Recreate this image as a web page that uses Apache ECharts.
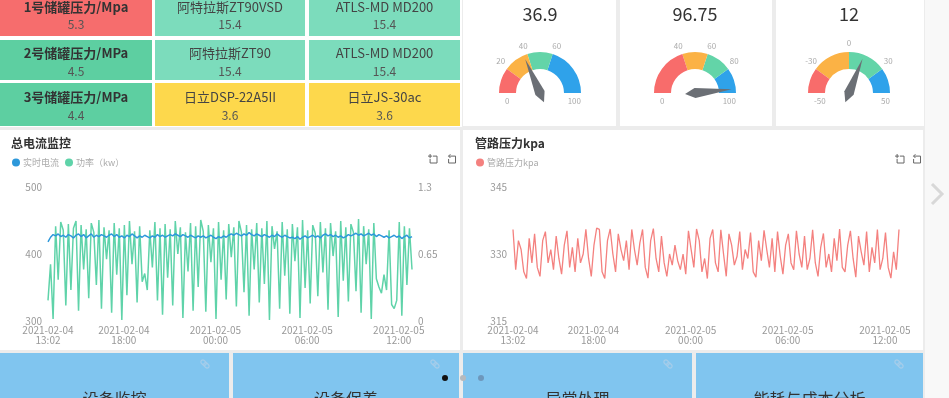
<!DOCTYPE html>
<html>
<head>
<meta charset="utf-8">
<script src="https://cdn.jsdelivr.net/npm/echarts@6/dist/echarts.min.js"></script>
<style>
  html, body { margin: 0; padding: 0; background: #fff; }
  #main { width: 949px; height: 398px; }
</style>
</head>
<body>
<div id="main"></div>
<script>
// 储罐 / 空压机 状态表
const tileLabels = [
  ['1号储罐压力/Mpa', '阿特拉斯ZT90VSD', 'ATLS-MD MD200'],
  ['2号储罐压力/MPa', '阿特拉斯ZT90', 'ATLS-MD MD200'],
  ['3号储罐压力/MPa', '日立DSP-22A5II', '日立JS-30ac']
]
const tileValues = [
  [5.3, 15.4, 15.4],
  [4.5, 15.4, 15.4],
  [4.4, 3.6, 3.6]
]
const tileStatus = [
  ['alarm', 'ok', 'ok'],
  ['good', 'ok', 'ok'],
  ['good', 'warn', 'warn']
]

// 仪表盘
const gaugeValues = [36.9, 96.75, 12]
const gaugeRanges = [[0, 100], [0, 100], [-50, 50]]
const gaugeBreaks = [[20, 40, 60], [40, 60, 80], [-30, 0, 30]]

// 底部入口
const menuNames = ['设备监控', '设备保养', '异常处理', '能耗与成本分析']

// 时间轴：2021-02-04 13:02 起，每 10 分钟一个点
const startTime = new Date(2021, 1, 4, 13, 2).getTime()
const stepMinutes = 10

// 实时电流（左轴）
const currentValues = [
  418, 425, 429, 427, 430, 426, 428, 425, 429, 427, 424, 428,
  430, 426, 429, 424, 427, 430, 425, 428, 426, 429, 427, 425,
  428, 430, 426, 429, 425, 427, 424, 428, 426, 430, 427, 424,
  427, 425, 428, 426, 424, 427, 425, 429, 426, 428, 425, 427,
  429, 427, 430, 428, 426, 429, 427, 425, 428, 426, 424, 427,
  425, 427, 424, 426, 428, 425, 423, 426, 424, 427, 425, 428,
  430, 428, 431, 429, 427, 430, 428, 432, 429, 427, 430, 428,
  426, 429, 427, 425, 428, 426, 430, 427, 425, 428, 426, 424,
  425, 423, 426, 422, 425, 427, 424, 426, 428, 425, 427, 424,
  428, 430, 427, 429, 426, 428, 425, 427, 424, 426, 429, 427,
  429, 431, 428, 430, 427, 429, 431, 428, 430, 426, 429, 427,
  425, 427, 424, 426, 428, 425, 427, 423, 426, 428, 424, 426
]

// 功率（右轴）
const powerValues = [
  0.20, 0.55, 0.02, 0.92, 0.40, 0.96, 0.88, 0.15, 0.94, 0.30, 0.90, 0.97,
  0.10, 0.93, 0.50, 0.89, 0.22, 0.95, 0.86, 0.35, 0.98, 0.12, 0.91, 0.60,
  0.88, 0.08, 0.95, 0.45, 0.90, 0.01, 0.93, 0.25, 0.97, 0.55, 0.87, 0.18,
  0.92, 0.38, 0.46, 0.30, 0.88, 0.52, 0.96, 0.20, 0.90, 0.06, 0.94, 0.42,
  0.89, 0.15, 0.97, 0.65, 0.91, 0.03, 0.86, 0.48, 0.95, 0.10, 0.92, 0.33,
  0.98, 0.87, 0.09, 0.93, 0.57, 0.90, 0.02, 0.96, 0.40, 0.88, 0.21, 0.94,
  0.62, 0.91, 0.14, 0.97, 0.86, 0.28, 0.93, 0.05, 0.89, 0.50, 0.95, 0.18,
  0.90, 0.36, 0.97, 0.01, 0.92, 0.70, 0.87, 0.12, 0.96, 0.44, 0.89, 0.07,
  0.94, 0.58, 0.91, 0.03, 0.98, 0.32, 0.88, 0.17, 0.93, 0.85, 0.24, 0.96,
  0.47, 0.90, 0.11, 0.95, 0.63, 0.87, 0.04, 0.97, 0.39, 0.91, 0.19, 0.94,
  0.86, 0.29, 0.99, 0.08, 0.92, 0.55, 0.89, 0.02, 0.95, 0.41, 0.33, 0.27,
  0.45, 0.30, 0.88, 0.16, 0.12, 0.20, 0.96, 0.05, 0.92, 0.35, 0.90, 0.50
]

// 管路压力kpa
const pressureValues = [
  335.5, 326.5, 333, 331, 326, 324.5, 333.5, 328, 334.5, 327, 325, 333,
  335, 328, 331, 326.5, 334, 329, 325.5, 332, 335.2, 327, 331.5, 326,
  333.5, 328, 330, 335.5, 329, 325, 332, 335.8, 335.5, 326, 324.5, 333,
  335.6, 330, 326, 334.5, 331, 328.5, 333, 326.5, 335.5, 331, 327.5, 332.5,
  335.5, 327, 324.6, 333, 335.7, 329, 326, 334, 328, 325, 330, 327.5,
  332, 328.5, 326.5, 330, 325.5, 335.2, 331, 327, 335.6, 333, 326, 329,
  324.5, 333.5, 335.5, 328, 326, 335.4, 330, 325, 334.5, 332, 327.5, 329.5,
  335, 326.5, 331, 329, 334.8, 326, 324.8, 333, 328.5, 335.3, 331, 327,
  333.5, 326, 335, 329.5, 325.5, 332, 334.5, 328, 326.5, 335.2, 330, 327,
  334, 326.5, 329, 335.4, 328, 325, 331.5, 334.6, 327, 330, 326, 333.5,
  328.5, 335.6, 327, 326, 332, 335.2, 329, 324.8, 334, 330.5, 327.5, 335,
  326, 331.5, 328, 335.5, 326.5, 329, 334.8, 327, 324.6, 330.5, 326.5, 335.5
]

const FONT = '"Noto Sans CJK SC", "Noto Sans", sans-serif'
const C = {
  red: '#f86c6b', orange: '#fbb245', green: '#63d4a8', blue: '#2fa2ea',
  tileRed: '#f66d6d', tileGood: '#5dcfa1', tileOk: '#7cdcbc', tileWarn: '#fdd84c',
  menu: '#80c5ef', bg: '#ececec'
}

const times = currentValues.map((_, i) => startTime + i * stepMinutes * 60000)
const pairs = (vals) => vals.map((v, i) => [times[i], v])

function pad(n) { return n < 10 ? '0' + n : '' + n }
function timeLabel(val) {
  const d = new Date(val)
  return d.getFullYear() + '-' + pad(d.getMonth() + 1) + '-' + pad(d.getDate()) + '\n' +
    pad(d.getHours()) + ':' + pad(d.getMinutes())
}

function text(x, y, str, size, color, weight) {
  return {
    type: 'text', z2: 20, silent: true,
    style: {
      x, y, text: str, fill: color,
      font: (weight || 'normal') + ' ' + size + 'px ' + FONT,
      align: 'center', verticalAlign: 'middle',
      textAlign: 'center', textVerticalAlign: 'middle'
    }
  }
}
function rect(x, y, w, h, fill, z2) {
  return { type: 'rect', silent: true, z2: z2 || 0, shape: { x, y, width: w, height: h }, style: { fill } }
}

const graphics = []
// 背景与卡片
graphics.push(rect(0, 0, 949, 398, C.bg, 0))
graphics.push(rect(925, 0, 24, 398, '#f8f8f8', 1))
graphics.push(rect(0, 0, 462, 127, '#ffffff', 1))
;[[463, 153], [620, 152], [776, 148]].forEach(c => graphics.push(rect(c[0], 0, c[1], 126, '#ffffff', 1)))
graphics.push(rect(0, 130, 460, 220, '#ffffff', 1))
graphics.push(rect(463, 130, 460, 220, '#ffffff', 1))

// 状态表
const colX = [[0, 152], [155, 150], [309, 151]]
const rowY = [[-4, 40], [40, 40], [83, 43]]
const rowText = [[7, 24], [53, 71], [97, 115]]
const statusColor = { alarm: C.tileRed, good: C.tileGood, ok: C.tileOk, warn: C.tileWarn }
tileLabels.forEach((row, r) => {
  row.forEach((label, c) => {
    const cx = colX[c][0] + colX[c][1] / 2
    graphics.push(rect(colX[c][0], rowY[r][0], colX[c][1], rowY[r][1], statusColor[tileStatus[r][c]], 2))
    graphics.push(text(cx, rowText[r][0], label, 13, c === 0 ? '#333' : '#444', c === 0 ? 'bold' : 'normal'))
    graphics.push(text(cx, rowText[r][1], String(tileValues[r][c]), 12, '#555'))
  })
})

// 底部菜单
const menuX = [[0, 229], [233, 226], [463, 229], [696, 227]]
menuNames.forEach((name, i) => {
  const m = menuX[i]
  graphics.push(rect(m[0], 353, m[1], 50, C.menu, 2))
  graphics.push({
    type: 'text', z2: 20, silent: true,
    style: {
      x: m[0] + m[1] / 2, y: 391, text: name, fill: '#333',
      font: 'normal 16px ' + FONT, align: 'center', verticalAlign: 'top',
      textAlign: 'center', textVerticalAlign: 'top'
    }
  })
  // 链接图标
  const ix = m[0] + m[1] - 24
  graphics.push({
    type: 'group', x: ix, y: 364, rotation: -Math.PI / 4, silent: true,
    children: [
      { type: 'rect', shape: { x: -5, y: -2, width: 6, height: 4, r: 2 }, style: { fill: null, stroke: '#a5cdea', lineWidth: 1.2 }, z2: 20 },
      { type: 'rect', shape: { x: -1, y: -2, width: 6, height: 4, r: 2 }, style: { fill: null, stroke: '#a5cdea', lineWidth: 1.2 }, z2: 20 }
    ]
  })
})
// 轮播指示点
;[[445, '#111111'], [463, '#b5b9bd'], [481, '#6d97bb']].forEach(d => {
  graphics.push({ type: 'circle', silent: true, z2: 30, shape: { cx: d[0], cy: 378, r: 3 }, style: { fill: d[1] } })
})
// 右侧箭头
graphics.push({
  type: 'polyline', silent: true, z2: 5,
  shape: { points: [[932, 184], [942, 194], [932, 204]] },
  style: { stroke: '#d8d8d8', lineWidth: 3, fill: null }
})
// 工具栏图标（区域缩放 / 还原）
const zoomIconParts = [[[0, 13.5], [26.9, 13.5]], [[13.5, 26.9], [13.5, 0]], [[32.1, 13.5], [58, 13.5], [58, 58], [13.5, 58], [13.5, 32.1]]]
const backIconParts = [[[22, 1.4], [9.9, 13.5], [22.2, 25.8]], [[10.3, 13.5], [54.9, 13.5], [54.9, 58], [10.3, 58], [10.3, 32]]]
function icon(parts, x0, y0) {
  const s = 9 / 58
  parts.forEach(pts => {
    graphics.push({
      type: 'polyline', silent: true, z2: 20,
      shape: { points: pts.map(p => [x0 + p[0] * s, y0 + p[1] * s]) },
      style: { stroke: '#666', lineWidth: 1, fill: null }
    })
  })
}
;[[428, 447], [895, 912]].forEach(p => {
  icon(zoomIconParts, p[0], 154)
  icon(backIconParts, p[1], 154)
})

function gaugeSeries(i, cx) {
  const min = gaugeRanges[i][0], max = gaugeRanges[i][1]
  const b = gaugeBreaks[i]
  const f = (v) => (v - min) / (max - min)
  const shown = [min, b[0], b[1], b[2], max]
  return {
    type: 'gauge', center: [cx, 93], radius: 41,
    startAngle: 180, endAngle: 0, min, max, splitNumber: 10,
    axisLine: { lineStyle: { width: 17, color: [[f(b[0]), C.red], [f(b[1]), C.orange], [f(b[2]), C.green], [1, C.blue]] } },
    axisTick: { show: false },
    splitLine: { show: false },
    axisLabel: {
      distance: -33, color: '#aaa', fontSize: 8, fontFamily: FONT,
      formatter: (v) => {
        const r = Math.round(v)
        if (r === min) return '{l|' + r + '}'
        if (r === max) return '{r|' + r + '}'
        return shown.indexOf(r) >= 0 ? String(r) : ''
      },
      rich: {
        l: { fontSize: 8, color: '#aaa', padding: [15, 0, 0, 19] },
        r: { fontSize: 8, color: '#aaa', padding: [15, 13, 0, 0] }
      }
    },
    pointer: { length: '90%', width: 5, itemStyle: { color: '#6b6f75' } },
    anchor: { show: false },
    title: { show: false },
    detail: { offsetCenter: [0, -79], fontSize: 18, color: '#333', fontWeight: 'normal', fontFamily: FONT, formatter: '{value}' },
    data: [{ value: gaugeValues[i] }]
  }
}

const axisLabelStyle = { color: '#999', fontSize: 10, fontFamily: FONT }
const timeAxis = (gridIndex) => ({
  type: 'time', gridIndex,
  min: times[0], max: times[times.length - 1],
  splitNumber: 3,
  axisLine: { show: false }, axisTick: { show: false },
  splitLine: { show: true, lineStyle: { color: '#eeeeee' } },
  axisLabel: Object.assign({ formatter: timeLabel, showMinLabel: true, showMaxLabel: false, lineHeight: 10, margin: 4 }, axisLabelStyle)
})

const option = {
  animation: false,
  graphic: { elements: graphics },
  title: [
    { text: '总电流监控', left: 11, top: 137, padding: 0, textStyle: { fontSize: 12, fontWeight: 'bold', color: '#333', fontFamily: FONT } },
    { text: '管路压力kpa', left: 475, top: 137, padding: 0, textStyle: { fontSize: 12, fontWeight: 'bold', color: '#333', fontFamily: FONT } }
  ],
  legend: [
    { left: 12, top: 158, padding: 0, itemWidth: 8, itemHeight: 8, itemGap: 6, icon: 'circle', data: ['实时电流', '功率（kw）'], textStyle: { fontSize: 9, color: '#aaa', fontFamily: FONT, padding: [0, 0, 0, -2] } },
    { left: 476, top: 158, padding: 0, itemWidth: 8, itemHeight: 8, icon: 'circle', data: ['管路压力kpa'], textStyle: { fontSize: 9, color: '#aaa', fontFamily: FONT, padding: [0, 0, 0, -2] } }
  ],
  grid: [
    { left: 48, right: 537, top: 187, bottom: 77, show: true, borderColor: '#eeeeee', borderWidth: 1 },
    { left: 513, right: 50, top: 187, bottom: 77, show: true, borderColor: '#eeeeee', borderWidth: 1 }
  ],
  xAxis: [timeAxis(0), timeAxis(1)],
  yAxis: [
    { type: 'value', gridIndex: 0, min: 300, max: 500, interval: 100, axisLine: { show: false }, axisTick: { show: false }, splitLine: { lineStyle: { color: '#eeeeee' } }, axisLabel: Object.assign({ margin: 6 }, axisLabelStyle) },
    { type: 'value', gridIndex: 0, position: 'right', min: 0, max: 1.3, interval: 0.65, axisLine: { show: false }, axisTick: { show: false }, splitLine: { show: false }, axisLabel: Object.assign({ margin: 6 }, axisLabelStyle) },
    { type: 'value', gridIndex: 1, min: 315, max: 345, interval: 15, axisLine: { show: false }, axisTick: { show: false }, splitLine: { lineStyle: { color: '#eeeeee' } }, axisLabel: Object.assign({ margin: 6 }, axisLabelStyle) }
  ],
  series: [
    gaugeSeries(0, 540),
    gaugeSeries(1, 695),
    gaugeSeries(2, 849),
    { name: '实时电流', type: 'line', xAxisIndex: 0, yAxisIndex: 0, z: 4, showSymbol: false, color: '#2d98da', lineStyle: { width: 1.5 }, data: pairs(currentValues) },
    { name: '功率（kw）', type: 'line', xAxisIndex: 0, yAxisIndex: 1, z: 3, showSymbol: false, color: '#5fd3a9', lineStyle: { width: 1.5 }, data: pairs(powerValues) },
    { name: '管路压力kpa', type: 'line', xAxisIndex: 1, yAxisIndex: 2, showSymbol: false, color: '#f4817f', lineStyle: { width: 1.3 }, data: pairs(pressureValues) }
  ]
}

const chart = echarts.init(document.getElementById('main'))
chart.setOption(option)
</script>
</body>
</html>
